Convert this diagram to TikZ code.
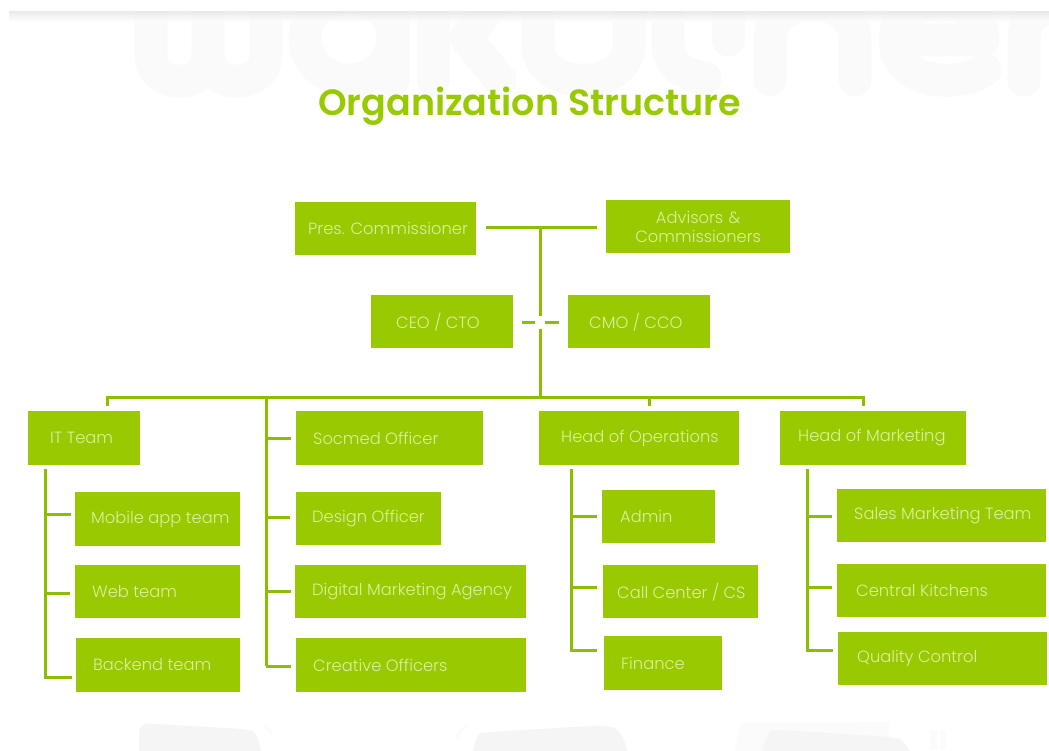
\documentclass[tikz,border=0pt]{standalone}
\usepackage{fontspec}
\setmainfont{Poppins Light}
\newfontfamily\titlefont{Poppins SemiBold}
\definecolor{boxgreen}{HTML}{99C900}
\definecolor{linegreen}{HTML}{8CBE00}
\definecolor{boxtext}{HTML}{DDEFA0}
\definecolor{wmA}{HTML}{FAFAFA}
\definecolor{wmB}{HTML}{F5F5F5}
\definecolor{wmC}{HTML}{FBFBFB}
\tikzset{
  box/.style={fill=boxgreen,text=boxtext,inner sep=0pt,anchor=north west,font=\fontsize{16.3}{20}\selectfont},
  conn/.style={draw=linegreen,line width=3pt,line join=miter},
  stemline/.style={draw=linegreen,line width=3.4pt},
  wm/.style={draw=wmA,line width=33pt,line cap=round,line join=round},
  ghost/.style={fill=wmB,rounded corners=9pt}
}
\newcommand{\bx}[7]{%
  \pgfmathsetmacro{\bw}{#4-#2}\pgfmathsetmacro{\bh}{#5-#3}\pgfmathsetmacro{\off}{#6-#2}%
  \node[box,minimum width=\bw pt,minimum height=\bh pt] (#1) at (#2,#3)
    {\makebox[\bw pt][l]{\hspace{\off pt}#7}};}
\begin{document}
\begin{tikzpicture}[x=1pt,y=-1pt]
\useasboundingbox (0,0) rectangle (1049,751);
% watermark band
\begin{scope}
\clip (0,12) rectangle (1049,110);
\draw[wm] (151,-10) -- (151,55) .. controls (151,90) and (208,90) .. (208,55) -- (208,-10);
\draw[wm] (208,55) .. controls (208,90) and (266,90) .. (266,55) -- (266,-10);
\draw[wm] (349,38) ellipse [x radius=44,y radius=42];
\draw[wm] (393,-10) -- (393,80);
\draw[wm] (433,-10) -- (433,80);
\draw[wm] (500,-5) -- (466,38) -- (500,80);
\draw[wm] (538,-10) -- (538,45) .. controls (538,92) and (629,92) .. (629,45) -- (629,-10);
\draw[wm] (668,-10) -- (668,45) .. controls (668,65) and (685,75) .. (705,78);
\draw[wm] (728,-10) -- (728,40);
\draw[wm] (770,80) -- (770,40) .. controls (770,-8) and (855,-8) .. (855,40) -- (855,80);
\draw[wm] (985,70) .. controls (960,88) and (895,85) .. (895,40) .. controls (895,-10) and (983,-10) .. (983,40) -- (900,40);
\draw[wm] (1024,80) -- (1024,40) .. controls (1024,15) and (1040,8) .. (1060,8);
\end{scope}
\shade[top color=black!9,bottom color=white,draw=none,opacity=.85] (9,12) rectangle (1049,22);
% bottom watermark shapes
\begin{scope}
\clip (0,700) rectangle (1049,751);
\fill[ghost] (139,770) -- (139,723) -- (243,729) .. controls (255,731) and (262,745) .. (262,770) -- cycle;
\fill[wmC] (260,722) .. controls (270,726) and (274,733) .. (272,738) .. controls (268,730) and (264,726) .. (260,722) -- cycle;
\fill[ghost] (472,770) .. controls (472,745) and (478,733) .. (490,732) -- (606,725) .. controls (620,730) and (628,745) .. (628,770) -- cycle;
\fill[wmC] (472,722) .. controls (458,728) and (454,735) .. (458,741) .. controls (460,733) and (466,727) .. (472,722) -- cycle;
\fill[wmC] (731,770) -- (740,723) -- (890,722) -- (888,740) -- (885,770) -- cycle;
\fill[ghost] (762,770) .. controls (762,745) and (768,730) .. (782,730) -- (890,737) .. controls (905,740) and (913,755) .. (913,770) -- cycle;
\fill[wmC] (930,730) rectangle (937,750);
\fill[wmC] (940,730) rectangle (946,750);
\end{scope}
% title
\node[text=boxgreen,font=\titlefont\fontsize{36.5}{44}\selectfont] (title) at (529.5,106) {Organization Structure};
% boxes
\bx{pres}{295}{202}{476}{254.5}{308}{Pres. Commissioner}
\node[box,minimum width=184pt,minimum height=53pt,align=center,text width=184pt,font=\fontsize{16.3}{19}\selectfont] (adv) at (606,200) {Advisors \&\\Commissioners};
\bx{ceo}{371}{295}{513}{348}{396}{CEO / CTO}
\bx{cmo}{568}{295}{709.5}{348}{589}{CMO / CCO}
\bx{it}{28}{411}{139.5}{464.5}{50}{IT Team}
\bx{socmed}{295.5}{411}{482.5}{464.5}{313}{Socmed Officer}
\bx{ops}{538.5}{411}{738.5}{464.5}{561}{Head of Operations}
\bx{mkt}{779.5}{411}{965.5}{464.5}{798}{Head of Marketing}
\bx{mobile}{75}{492}{239.5}{546}{91}{Mobile app team}
\bx{web}{75}{565}{239.5}{618}{92}{Web team}
\bx{backend}{76}{638}{239.5}{691.5}{93}{Backend team}
\bx{design}{295.5}{492}{441}{545}{312}{Design Officer}
\bx{digital}{294.5}{565}{525.5}{618}{312}{Digital Marketing Agency}
\bx{creative}{295.5}{638}{525.5}{691.5}{313}{Creative Officers}
\bx{admin}{602}{489.5}{715}{543}{620}{Admin}
\bx{call}{603}{565}{758}{618}{617}{Call Center / CS}
\bx{finance}{604}{636}{721.5}{689.5}{621}{Finance}
\bx{sales}{836.5}{488.5}{1046}{542}{854}{Sales Marketing Team}
\bx{central}{836.5}{564}{1046}{617}{856}{Central Kitchens}
\bx{quality}{837.5}{632}{1047}{685}{857}{Quality Control}
% connector coordinates
\coordinate (topL) at (476,227.5);
\coordinate (topM) at (540.5,227.5);
\coordinate (midU) at (540.5,316);
\coordinate (midL) at (540.5,329);
\coordinate (midY) at (540,322);
\coordinate (bus) at (540.5,397);
\coordinate (dIT) at (107,397);
\coordinate (dSoc) at (266,397);
\coordinate (dOps) at (649.5,397);
\coordinate (dMkt) at (863,397);
\coordinate (itA) at (45.5,514);
\coordinate (itB) at (45.5,593.5);
\coordinate (itC) at (45.5,677);
\coordinate (soA) at (266,438);
\coordinate (soB) at (266,517);
\coordinate (soC) at (266,591.5);
\coordinate (soD) at (266,666);
\coordinate (opA) at (571.5,516.5);
\coordinate (opB) at (571.5,587);
\coordinate (opC) at (571.5,650.5);
\coordinate (mkA) at (807,516);
\coordinate (mkB) at (807,587);
\coordinate (mkC) at (807,650);
% connectors
\draw[conn,shorten <=10pt,shorten >=9pt] (topL) -- (adv.west |- topL);
\draw[conn] (topM) -- (midU);
\draw[conn,shorten <=9pt,shorten >=5pt] (ceo.east |- midY) -- (midY);
\draw[conn,shorten <=5pt,shorten >=9pt] (midY) -- (cmo.west |- midY);
\draw[stemline] (midL) -- (bus);
\draw[conn,shorten <=5pt,shorten >=5pt] (dIT |- it.north) -- (dIT) -- (dMkt) -- (dMkt |- mkt.north);
\draw[conn,shorten >=5pt] (dOps) -- (dOps |- ops.north);
\draw[conn] (dSoc) -- (soD);
\draw[conn,shorten >=4.5pt] (soA) -- (soA -| socmed.west);
\draw[conn,shorten >=5.5pt] (soB) -- (soB -| design.west);
\draw[conn,shorten >=3.5pt] (soC) -- (soC -| digital.west);
\draw[conn,shorten >=4.5pt] (soD) -- (soD -| creative.west);
\draw[conn,shorten <=4.5pt,shorten >=4.5pt] (itA |- it.south) -- (itC) -- (itC -| backend.west);
\draw[conn,shorten >=4pt] (itA) -- (itA -| mobile.west);
\draw[conn,shorten >=5pt] (itB) -- (itB -| web.west);
\draw[conn,shorten <=4.5pt,shorten >=7pt] (opA |- ops.south) -- (opC) -- (opC -| finance.west);
\draw[conn,shorten >=5pt] (opA) -- (opA -| admin.west);
\draw[conn,shorten >=6pt] (opB) -- (opB -| call.west);
\draw[conn,shorten <=4.5pt,shorten >=5pt] (mkA |- mkt.south) -- (mkC) -- (mkC -| quality.west);
\draw[conn,shorten >=4.5pt] (mkA) -- (mkA -| sales.west);
\draw[conn,shorten >=4.5pt] (mkB) -- (mkB -| central.west);
\end{tikzpicture}
\end{document}
